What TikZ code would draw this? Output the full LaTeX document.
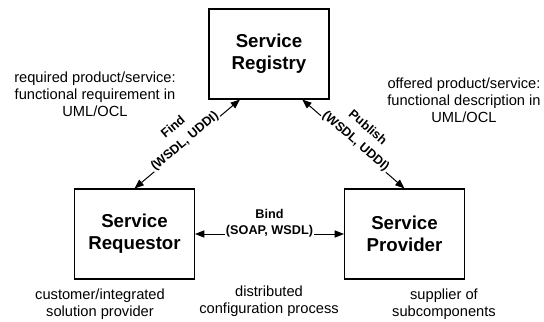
\documentclass[tikz,border=0pt]{standalone}
\usepackage{fontspec}
\setmainfont{Liberation Sans}
\usetikzlibrary{arrows.meta,calc}
\begin{document}
\begin{tikzpicture}[x=0.75pt,y=-0.75pt,
  box/.style={draw=black, line width=0.8pt, minimum width=90pt, minimum height=67.5pt,
    inner sep=0pt, align=center, font=\fontsize{14}{16.5}\selectfont\bfseries},
  link/.style={line width=0.75pt,
    {Triangle[length=7pt,width=5.4pt]}-{Triangle[length=7pt,width=5.4pt]}},
  lbl/.style={font=\fontsize{9.5}{11}\selectfont\bfseries, inner sep=0.8pt},
  onlink/.style={lbl, anchor=base, fill=white},
  overlink/.style={lbl, anchor=base, yshift=13.5pt},
  note/.style={align=center, font=\fontsize{11}{12.75}\selectfont}
]
\useasboundingbox (0,0) rectangle (544,322);

% the three roles
\node[box] (reg)  at (269,54)    {Service\\Registry};
\node[box] (req)  at (134.5,234) {Service\\Requestor};
\node[box] (prov) at (404.5,234) {Service\\Provider};

% attachment points on the registry's lower edge
\coordinate (regL) at ($(reg.south west)!0.26!(reg.south east)$);
\coordinate (regR) at ($(reg.south west)!0.775!(reg.south east)$);

% interactions
\draw[link] (req.north) --
  node[onlink, sloped] (findp) {(WSDL, UDDI)}
  node[overlink, sloped] (find) {Find} (regL);
\draw[link] (regR) --
  node[onlink, sloped] (pubp) {(WSDL, UDDI)}
  node[overlink, sloped] (pub) {Publish} (prov.north);
\draw[link] (req.east) --
  node[onlink] (bindp) {(SOAP, WSDL)}
  node[lbl, anchor=base, yshift=12pt] (bind) {Bind} (prov.west);

% annotations
\node[note] (reqnote)  at (95,94)    {required product/service:\\functional requirement in\\UML/OCL};
\node[note] (offnote)  at (464,100)  {offered product/service:\\functional description in\\UML/OCL};
\node[note] (custnote) at (100,304)  {customer/integrated\\solution provider};
\node[note] (distnote) at (269,301)  {distributed\\configuration process};
\node[note] (supnote)  at (444,304)  {supplier of\\subcomponents};
\end{tikzpicture}
\end{document}
